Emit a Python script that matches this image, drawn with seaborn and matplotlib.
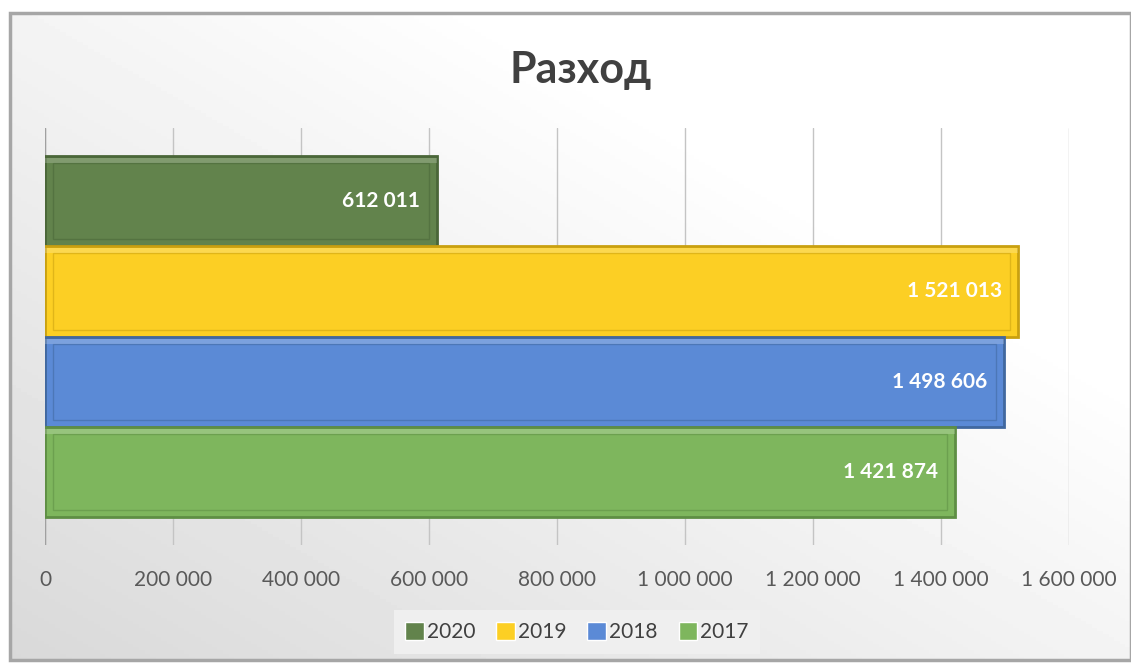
import numpy as np
import pandas as pd
import matplotlib
matplotlib.use("Agg")
import matplotlib.pyplot as plt
from matplotlib.patches import Rectangle
import seaborn as sns

# ---- data ----
title = "Разход"
years = ["2020", "2019", "2018", "2017"]
values = [612011, 1521013, 1498606, 1421874]
colors = ["#62834C", "#FCCF24", "#5B8AD6", "#7EB65D"]
edge_colors = ["#4A6638", "#C9A010", "#41689F", "#5E8E44"]
xticks = [0, 200000, 400000, 600000, 800000, 1000000, 1200000, 1400000, 1600000]

df = pd.DataFrame({"cat": [title] * len(years), "year": years, "value": values})

sns.set_theme(style="white")
plt.rcParams["font.family"] = ["Lato", "DejaVu Sans"]


def fmt(v):
    return f"{int(round(v)):,}".replace(",", " ")


fig = plt.figure(figsize=(11.31, 6.64), dpi=100)
fig.patch.set_facecolor("white")

# background gradient frame
bg = fig.add_axes([10 / 1131, 4 / 664, 1 - 10 / 1131, 1 - 17 / 664])
bg.set_axis_off()
gx = np.linspace(0, 1, 200)
gy = np.linspace(0, 1, 200)
GX, GY = np.meshgrid(gx, gy)
shade = np.clip(0.85 + 0.15 * (0.7 * GX + 0.7 * GY), 0, 1)
bg.imshow(shade, cmap="gray", vmin=0, vmax=1, origin="lower", aspect="auto",
          extent=[0, 1, 0, 1])
bg.set_xlim(0, 1)
bg.set_ylim(0, 1)
bg.add_patch(Rectangle((0, 0), 1, 1, fill=False, edgecolor="#A6A6A6", lw=2.5,
                       transform=bg.transAxes, clip_on=False))

ax = fig.add_axes([45 / 1131, 1 - 545 / 664, (1069 - 45) / 1131, (545 - 128) / 664])
ax.patch.set_alpha(0)

sns.barplot(data=df, y="cat", x="value", hue="year", hue_order=years,
            palette=colors, saturation=1, orient="h", width=0.866, dodge=True,
            ax=ax, legend=True, zorder=3)

ax.set_xlim(0, 1600000)
ax.set_ylim(0.5, -0.5)
ax.set_xticks(xticks)
ax.set_xticklabels([fmt(t) for t in xticks], fontsize=15, color="#595959")
ax.tick_params(axis="x", length=0, pad=18)
ax.set_yticks([])
ax.set_xlabel("")
ax.set_ylabel("")
for s in ax.spines.values():
    s.set_visible(False)
ax.grid(axis="x", color="#C4C4C4", lw=1, zorder=0)
ax.axvline(0, color="#A0A0A0", lw=1, zorder=1)

# bevel look + labels
dx = 1600000 * 8 / 1024
dy = 1.0 * 7 / 417
for cont, ec, c in zip(ax.containers, edge_colors, colors):
    for p in cont.patches:
        p.set_edgecolor(ec)
        p.set_linewidth(2)
        x0, y0, w, h = p.get_x(), p.get_y(), p.get_width(), p.get_height()
        ax.add_patch(Rectangle((x0 + dx, y0 + dy), w - 2 * dx, h - 2 * dy,
                               fill=False, edgecolor=ec, lw=1.0, alpha=0.55,
                               zorder=4))
        ax.add_patch(Rectangle((x0, y0 + dy * 0.3), w, dy * 0.7,
                               facecolor="white", alpha=0.2, lw=0, zorder=4))
    texts = ax.bar_label(cont, labels=[fmt(v) for v in cont.datavalues],
                         padding=-12, color="white", fontsize=15,
                         fontweight="bold", zorder=5)
    for t in texts:
        t.set_ha("right")

fig.text(0.513, 1 - 70 / 664, title, ha="center", va="center",
         fontsize=31, fontweight="bold", color="#404040")

handles, labels = ax.get_legend_handles_labels()
ax.legend(handles, labels, loc="center", bbox_to_anchor=(577 / 1131, 1 - 632 / 664),
          bbox_transform=fig.transFigure, ncol=4, frameon=True,
          facecolor="#EFEFEF", edgecolor="none", framealpha=1,
          fontsize=15, labelcolor="#404040", handlelength=0.9,
          handleheight=1.0, handletextpad=0.15, columnspacing=1.0,
          borderpad=0.55, borderaxespad=0, fancybox=False)

fig.savefig("out.png", dpi=100)
